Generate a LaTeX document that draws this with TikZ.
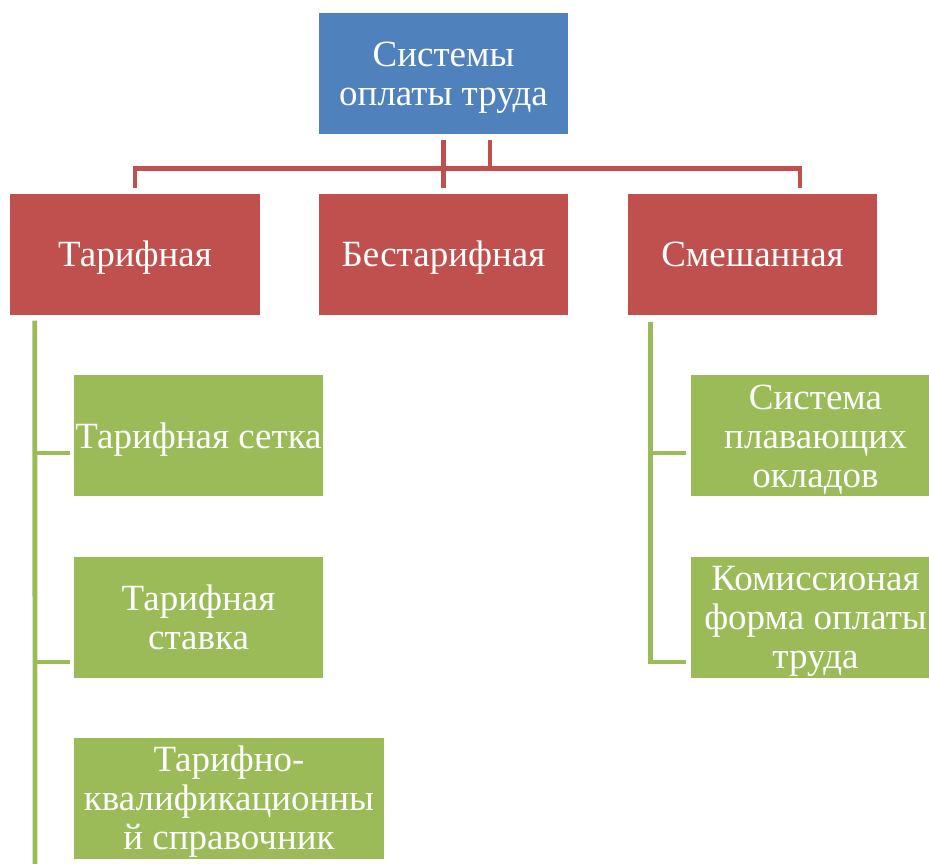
\documentclass[tikz,border=0pt]{standalone}
\usepackage{fontspec}
\setmainfont{Liberation Serif}
\usepackage{tikz}
\definecolor{myrootcolor}{HTML}{4F81BD}
\definecolor{mytypecolor}{HTML}{C0504D}
\definecolor{myitemcolor}{HTML}{9BBB59}
\newcommand{\hstrut}{\rule{0pt}{33pt}}
\tikzset{
  sysbox/.style={fill=#1, rectangle, text=white, align=center, inner sep=0pt, minimum height=121pt,
    font=\fontsize{37pt}{39pt}\selectfont, text depth=8pt},
  redline/.style={draw=mytypecolor, line width=4.8pt},
  greenline/.style={draw=myitemcolor, line width=4.8pt}
}

\begin{document}
\begin{tikzpicture}[x=1pt, y=-1pt]%
\useasboundingbox (0, 0) rectangle (929, 863);%
\node[sysbox=myrootcolor, minimum width=249pt] (root) at (443.5, 73.5) {\hstrut Системы\\оплаты труда};%
\node[sysbox=mytypecolor, minimum width=250pt] (tarif) at (135, 254) {\hstrut Тарифная};%
\node[sysbox=mytypecolor, minimum width=249pt] (bestarif) at (443.5, 254) {\hstrut Бестарифная};%
\node[sysbox=mytypecolor, minimum width=249pt] (smesh) at (752.5, 254) {\hstrut Смешанная};%
\node[sysbox=myitemcolor, minimum width=249pt] (setka) at (198.5, 435.5) {\hstrut Тарифная сетка};%
\node[sysbox=myitemcolor, minimum width=249pt] (stavka) at (198.5, 617) {\hstrut Тарифная\\ставка};%
\node[sysbox=myitemcolor, minimum width=310pt] (spravka) at (229, 798) {\hstrut Тарифно-\\квалификационны\\й справочник};%
\node[sysbox=myitemcolor, minimum width=249pt] (plav) at (815.5, 435.5) {\hstrut Система\\плавающих\\окладов};%
\node[sysbox=myitemcolor, minimum width=249pt] (komis) at (815.5, 617) {\hstrut Комиссионая\\форма оплаты\\труда};%
% red connectors
\draw[redline, shorten <=6pt, shorten >=5pt] (root.south) -- (bestarif.north);%
\draw[redline, shorten <=6pt, shorten >=5pt] ([xshift=46.5pt]root.south) |- ([yshift=25pt]tarif.north) -- (tarif.north);%
\draw[redline, shorten <=6pt, shorten >=5pt] ([xshift=46.5pt]root.south) |- ([xshift=47.5pt, yshift=25pt]smesh.north) -- ([xshift=47.5pt]smesh.north);%
% green connectors
\coordinate (tend) at (35, 880);%
\coordinate (tb1) at (35, 453);%
\coordinate (tb2) at (35, 662);%
\coordinate (sb1) at (651, 453);%
\draw[greenline, shorten <=6pt] ([xshift=25pt]tarif.south west) -- (tend);%
\draw[greenline, shorten >=4pt] (tb1) -- (tb1 -| setka.west);%
\draw[greenline, shorten >=4pt] (tb2) -- (tb2 -| stavka.west);%
\draw[greenline, shorten <=7pt, shorten >=5pt] ([xshift=23pt]smesh.south west) |- ([yshift=-45pt]komis.west);%
\draw[greenline, shorten >=5pt] (sb1) -- (sb1 -| plav.west);%
\end{tikzpicture}
\end{document}
